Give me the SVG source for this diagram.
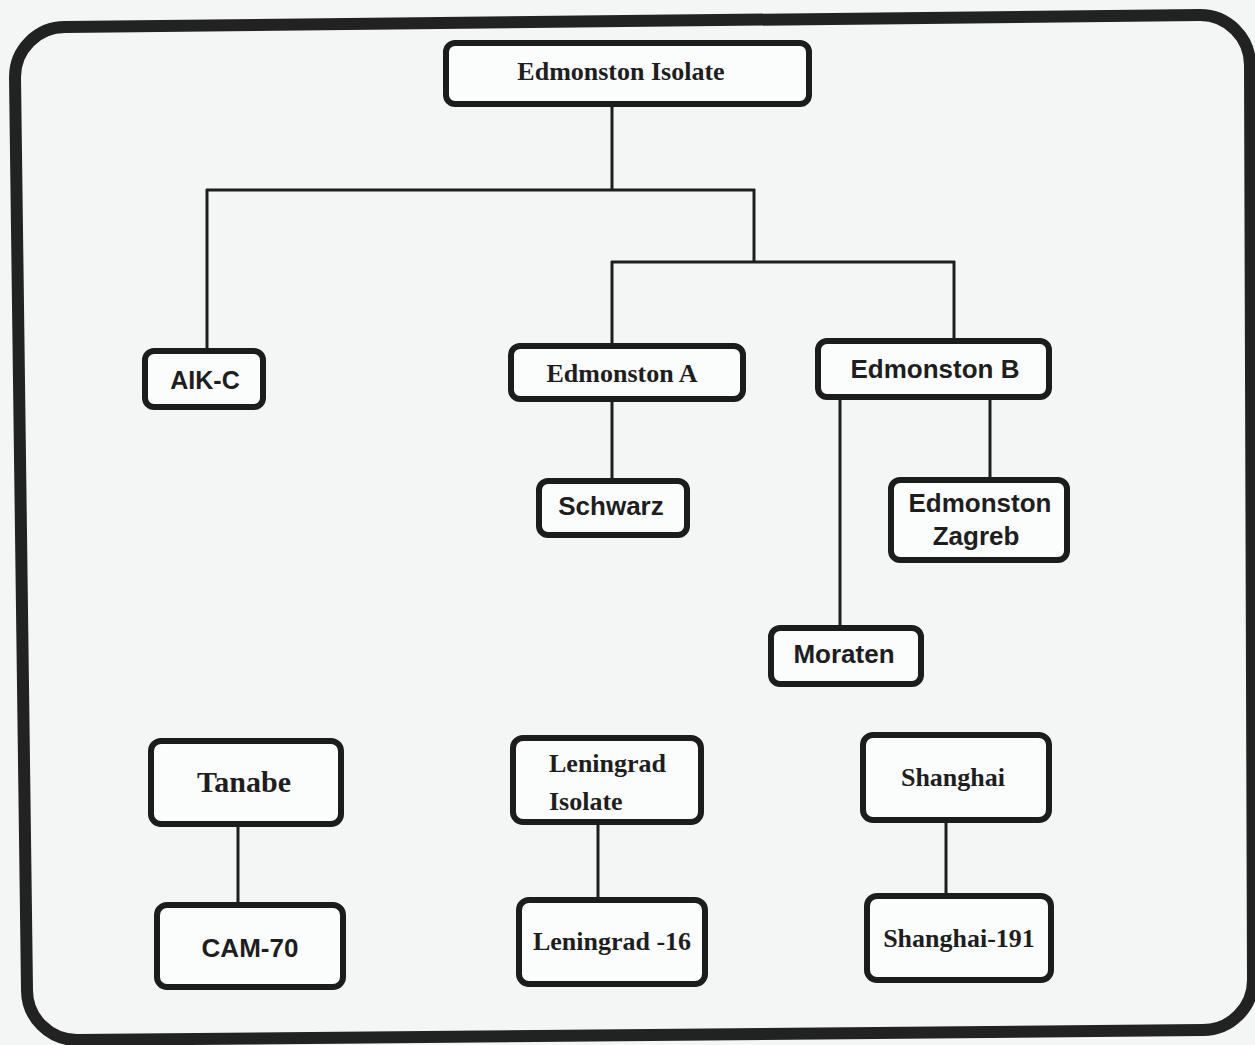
<svg xmlns="http://www.w3.org/2000/svg" width="1255" height="1045" viewBox="0 0 1255 1045">
  <style>
    .box { fill: #fbfcfc; stroke: #1c1c1c; stroke-width: 6; }
    .serif { font-family: "Liberation Serif", "Times New Roman", serif; font-weight: bold; font-size: 26px; fill: #1e1e1e; }
    .sans { font-family: "Liberation Sans", Arial, sans-serif; font-weight: bold; font-size: 26px; fill: #1e1e1e; }
    .c { text-anchor: middle; }
    .conn line { stroke: #1e1e1e; stroke-width: 3; }
  </style>
  <rect x="0" y="0" width="1255" height="1045" fill="#f4f6f6"/>
  <path id="frame" d="M 15,77 A 50,50 0 0 1 65,27 L 1200,15 A 50,50 0 0 1 1250,65 L 1253,980 A 50,50 0 0 1 1203,1030 L 77,1040 A 50,50 0 0 1 27,990 Z" fill="none" stroke="#222" stroke-width="12"/>

  <g id="connectors" class="conn">
    <line x1="612" y1="106" x2="612" y2="190"/>
    <line x1="206" y1="190" x2="755" y2="190"/>
    <line x1="207" y1="189" x2="207" y2="349"/>
    <line x1="754" y1="189" x2="754" y2="263"/>
    <line x1="611" y1="262" x2="955" y2="262"/>
    <line x1="612" y1="261" x2="612" y2="344"/>
    <line x1="954" y1="261" x2="954" y2="339"/>
    <line x1="612" y1="401" x2="612" y2="479"/>
    <line x1="840" y1="399" x2="840" y2="626"/>
    <line x1="990" y1="399" x2="990" y2="478"/>
    <line x1="238" y1="826" x2="238" y2="903"/>
    <line x1="598" y1="824" x2="598" y2="898"/>
    <line x1="946" y1="822" x2="946" y2="894"/>
  </g>

  <g id="edmonston-isolate">
    <rect class="box" x="446" y="43" width="363" height="61" rx="9"/>
    <text class="serif c" x="621" y="80">Edmonston Isolate</text>
  </g>
  <g id="aik-c">
    <rect class="box" x="145" y="351" width="118" height="56" rx="9"/>
    <text class="sans c" x="205" y="389" style="font-size:25px">AIK-C</text>
  </g>
  <g id="edmonston-a">
    <rect class="box" x="511" y="346" width="232" height="53" rx="9"/>
    <text class="serif c" x="622" y="382">Edmonston A</text>
  </g>
  <g id="edmonston-b">
    <rect class="box" x="818" y="341" width="231" height="56" rx="9"/>
    <text class="sans c" x="935" y="378">Edmonston B</text>
  </g>
  <g id="schwarz">
    <rect class="box" x="539" y="481" width="148" height="54" rx="9"/>
    <text class="sans c" x="611" y="515">Schwarz</text>
  </g>
  <g id="edmonston-zagreb">
    <rect class="box" x="891" y="480" width="176" height="80" rx="9"/>
    <text class="sans c" x="980" y="512">Edmonston</text>
    <text class="sans c" x="976" y="545">Zagreb</text>
  </g>
  <g id="moraten">
    <rect class="box" x="771" y="628" width="150" height="56" rx="9"/>
    <text class="sans c" x="844" y="663">Moraten</text>
  </g>
  <g id="tanabe">
    <rect class="box" x="151" y="741" width="190" height="83" rx="10"/>
    <text class="serif c" x="244" y="792" style="font-size:30px">Tanabe</text>
  </g>
  <g id="cam-70">
    <rect class="box" x="157" y="905" width="186" height="82" rx="10"/>
    <text class="sans c" x="250" y="957">CAM-70</text>
  </g>
  <g id="leningrad-isolate">
    <rect class="box" x="513" y="738" width="188" height="84" rx="10"/>
    <text class="serif" x="549" y="772">Leningrad</text>
    <text class="serif" x="549" y="810">Isolate</text>
  </g>
  <g id="leningrad-16">
    <rect class="box" x="519" y="900" width="186" height="84" rx="10"/>
    <text class="serif c" x="612" y="950">Leningrad -16</text>
  </g>
  <g id="shanghai">
    <rect class="box" x="863" y="735" width="186" height="85" rx="10"/>
    <text class="serif c" x="953" y="786">Shanghai</text>
  </g>
  <g id="shanghai-191">
    <rect class="box" x="867" y="896" width="184" height="84" rx="10"/>
    <text class="serif c" x="959" y="947">Shanghai-191</text>
  </g>
</svg>
